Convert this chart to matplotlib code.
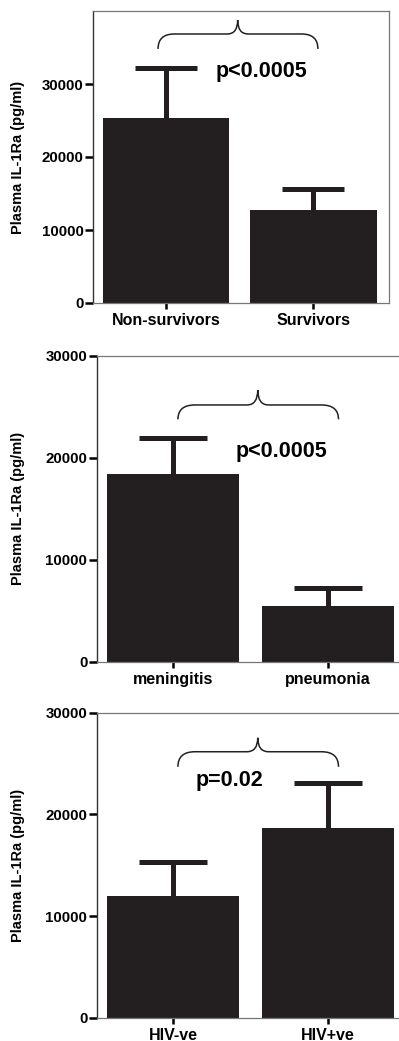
import matplotlib.pyplot as plt
from matplotlib.path import Path
from matplotlib.patches import PathPatch

plt.rcParams['font.family'] = ['Liberation Sans', 'DejaVu Sans']
plt.rcParams['font.weight'] = 'bold'

# panel data (mean, upper error bar top)
labels_outcome = ['Non-survivors', 'Survivors']
means_outcome = [25300, 12700]
tops_outcome = [32150, 15580]

labels_diag = ['meningitis', 'pneumonia']
means_diag = [18370, 5430]
tops_diag = [21900, 7200]

labels_hiv = ['HIV-ve', 'HIV+ve']
means_hiv = [11970, 18680]
tops_hiv = [15280, 23050]

p_texts = ['p<0.0005', 'p<0.0005', 'p=0.02']

BAR = '#231f20'
W, H = 399, 1041


def brace(ax, x0, x1, xt, y_end, y_line, y_tip, dx=0.11, dt=0.07):
    verts = [(x0, y_end), (x0, y_line), (x0 + dx, y_line),
             (xt - dt, y_line), (xt, y_line), (xt, y_tip),
             (xt, y_line), (xt + dt, y_line),
             (x1 - dx, y_line), (x1, y_line), (x1, y_end)]
    codes = [Path.MOVETO, Path.CURVE3, Path.CURVE3,
             Path.LINETO, Path.CURVE3, Path.CURVE3,
             Path.CURVE3, Path.CURVE3,
             Path.LINETO, Path.CURVE3, Path.CURVE3]
    ax.add_patch(PathPatch(Path(verts, codes), fill=False, lw=1.1,
                           edgecolor='#222222', clip_on=False))


def panel(rect_px, xlim, ylim, labels, means, tops, cap, ptext, ppos, br,
          right_spine=True):
    l, r, t, b = rect_px
    ax = fig.add_axes([l / W, 1 - b / H, (r - l) / W, (b - t) / H])
    x = [0, 1]
    err = [tp - m for tp, m in zip(tops, means)]
    # errorbars sit behind the bars so only the upper half shows
    ax.errorbar(x, means, yerr=err, fmt='none', ecolor=BAR, elinewidth=3.6,
                capsize=cap, capthick=3.6, zorder=1)
    ax.bar(x, means, width=0.855, color=BAR, zorder=2)
    ax.set_xlim(*xlim)
    ax.set_ylim(*ylim)
    ax.set_yticks([0, 10000, 20000, 30000])
    ax.set_xticks(x)
    ax.set_xticklabels(labels, fontsize=11.5, fontweight='bold')
    ax.tick_params(axis='y', length=5.8, width=1.8, pad=1, labelsize=10.8)
    ax.tick_params(axis='x', length=4.3, width=1.8, pad=3)
    ax.set_ylabel('Plasma IL-1Ra (pg/ml)', fontsize=10.5, fontweight='bold')
    for s in ['top', 'bottom', 'right']:
        ax.spines[s].set_color('#777777')
        ax.spines[s].set_linewidth(0.9)
    ax.spines['left'].set_color('#333333')
    ax.spines['left'].set_linewidth(1.0)
    ax.spines['right'].set_visible(right_spine)
    ax.text(ppos[0], ppos[1], ptext, fontsize=15.5, fontweight='bold',
            ha='center', va='center')
    brace(ax, *br)
    return ax


fig = plt.figure(figsize=(W / 100, H / 100), dpi=100)

a1 = panel((93, 389, 11, 303), (-0.495, 1.512), (0, 40000),
           labels_outcome, means_outcome, tops_outcome, 22, p_texts[0],
           (0.65, 31700), (-0.054, 1.03, 0.486, 34800, 36850, 38770))
a1.yaxis.set_label_coords(-0.23, 0.5)

a2 = panel((96.7, 399.5, 355.7, 661.7), (-0.496, 1.465), (0, 30000),
           labels_diag, means_diag, tops_diag, 24.5, p_texts[1],
           (0.70, 20590), (0.03, 1.07, 0.547, 23760, 25170, 26640),
           right_spine=False)
a2.yaxis.set_label_coords(-0.237, 0.5)

a3 = panel((96.7, 399.5, 712.7, 1017.7), (-0.496, 1.465), (0, 30000),
           labels_hiv, means_hiv, tops_hiv, 24.5, p_texts[2],
           (0.362, 23370), (0.03, 1.07, 0.547, 24680, 26160, 27530),
           right_spine=False)
a3.yaxis.set_label_coords(-0.237, 0.5)

fig.savefig('out.png', dpi=100)
